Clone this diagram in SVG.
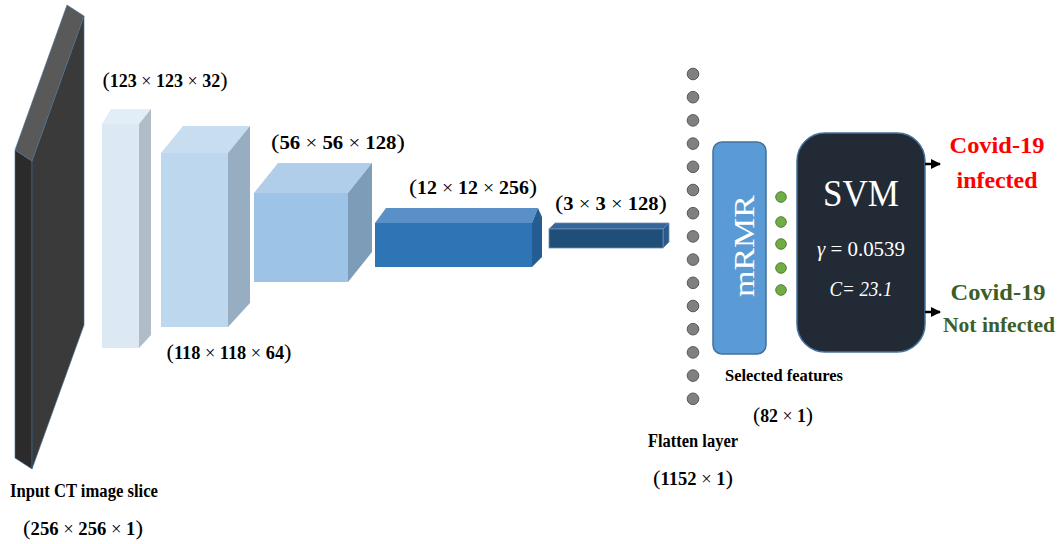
<svg xmlns="http://www.w3.org/2000/svg" width="1058" height="544" viewBox="0 0 1058 544">
<defs>
<style>
.lbl{font-family:"Liberation Serif","Times New Roman",serif;font-weight:bold;fill:#000;}
.math{font-family:"Liberation Serif","Times New Roman",serif;font-weight:bold;font-size:18px;fill:#000;}
.p{font-weight:normal;font-size:22px;}
.x{font-weight:normal;}
.w{font-family:"Liberation Serif","Times New Roman",serif;fill:#fff;}
.edge{stroke:#41719c;stroke-width:0.6;}
</style>
<marker id="ah" viewBox="0 0 10 10" refX="9" refY="5" markerWidth="4" markerHeight="4" orient="auto" markerUnits="strokeWidth">
<path d="M0,0 L10,5 L0,10 z" fill="#000"/>
</marker>
</defs>
<rect width="1058" height="544" fill="#fff"/>

<g id="input-slab">
<polygon points="15,150 32,161 32,469 15,458" fill="#2b2b2b" class="edge"/>
<polygon points="32,161 84,16 84,325 32,469" fill="#3a3a3a" class="edge"/>
<polygon points="15,150 67,5 84,16 32,161" fill="#595959" class="edge"/>
<text class="lbl" x="84" y="497" font-size="18" text-anchor="middle" textLength="148" lengthAdjust="spacingAndGlyphs">Input CT image slice</text>
<text class="math" x="83" y="535" text-anchor="middle" textLength="120" lengthAdjust="spacingAndGlyphs"><tspan class="p">(</tspan>256 <tspan class="x">×</tspan> 256 <tspan class="x">×</tspan> 1<tspan class="p">)</tspan></text>
</g>

<g id="layer1">
<polygon points="102,124 111,109 151,109 139,124" fill="#e3edf8"/>
<polygon points="139,124 151,109 151,335 139,348" fill="#b0bcc8"/>
<rect x="102" y="124" width="37" height="224" fill="#dde8f5"/>
<text class="math" x="165" y="87" text-anchor="middle" textLength="125" lengthAdjust="spacingAndGlyphs"><tspan class="p">(</tspan>123 <tspan class="x">×</tspan> 123 <tspan class="x">×</tspan> 32<tspan class="p">)</tspan></text>
</g>

<g id="layer2">
<polygon points="161,153 183,126 250,126 228,153" fill="#c9ddf0"/>
<polygon points="228,153 250,126 250,303 228,327" fill="#97adc1"/>
<rect x="161" y="153" width="67" height="174" fill="#bdd7ee"/>
<text class="math" x="229" y="359" text-anchor="middle" textLength="125" lengthAdjust="spacingAndGlyphs"><tspan class="p">(</tspan>118 <tspan class="x">×</tspan> 118 <tspan class="x">×</tspan> 64<tspan class="p">)</tspan></text>
</g>

<g id="layer3">
<polygon points="254,193 278,163 372,163 348,193" fill="#b0cde9"/>
<polygon points="348,193 372,163 372,252 348,282" fill="#7d9cb8"/>
<rect x="254" y="193" width="94" height="89" fill="#9dc3e6"/>
<text class="math" x="338" y="149" text-anchor="middle" textLength="134" lengthAdjust="spacingAndGlyphs"><tspan class="p">(</tspan>56 <tspan class="x">×</tspan> 56 <tspan class="x">×</tspan> 128<tspan class="p">)</tspan></text>
</g>

<g id="layer4">
<polygon points="375,223 386,208 538,208 532,223" fill="#5a90c8"/>
<polygon points="532,223 538,208 542,217 542,257 532,267" fill="#245d93"/>
<rect x="375" y="223" width="157" height="44" fill="#2e75b6"/>
<text class="math" x="473" y="194" text-anchor="middle" textLength="128" lengthAdjust="spacingAndGlyphs"><tspan class="p">(</tspan>12 <tspan class="x">×</tspan> 12 <tspan class="x">×</tspan> 256<tspan class="p">)</tspan></text>
</g>

<g id="layer5">
<polygon points="549,229 555,223 669,223 663,229" fill="#35679a" stroke="#6f8db0" stroke-width="0.8"/>
<polygon points="663,229 669,223 669,242 663,248" fill="#2a5a8a" stroke="#6f8db0" stroke-width="0.8"/>
<rect x="549" y="229" width="114" height="19" fill="#1f4e79" stroke="#6f8db0" stroke-width="0.8"/>
<text class="math" x="611" y="210" text-anchor="middle" textLength="112" lengthAdjust="spacingAndGlyphs"><tspan class="p">(</tspan>3 <tspan class="x">×</tspan> 3 <tspan class="x">×</tspan> 128<tspan class="p">)</tspan></text>
</g>

<g id="flatten">
<g fill="#808080" stroke="#595959" stroke-width="1">
<circle cx="693" cy="74" r="5.8"/>
<circle cx="693" cy="97.2" r="5.8"/>
<circle cx="693" cy="120.4" r="5.8"/>
<circle cx="693" cy="143.6" r="5.8"/>
<circle cx="693" cy="166.8" r="5.8"/>
<circle cx="693" cy="190" r="5.8"/>
<circle cx="693" cy="213.2" r="5.8"/>
<circle cx="693" cy="236.4" r="5.8"/>
<circle cx="693" cy="259.6" r="5.8"/>
<circle cx="693" cy="282.8" r="5.8"/>
<circle cx="693" cy="306" r="5.8"/>
<circle cx="693" cy="329.2" r="5.8"/>
<circle cx="693" cy="352.4" r="5.8"/>
<circle cx="693" cy="375.6" r="5.8"/>
<circle cx="693" cy="398.8" r="5.8"/>
</g>
<text class="lbl" x="693" y="447" font-size="18" text-anchor="middle" textLength="90" lengthAdjust="spacingAndGlyphs">Flatten layer</text>
<text class="math" x="693" y="485" text-anchor="middle" textLength="80" lengthAdjust="spacingAndGlyphs"><tspan class="p">(</tspan>1152 <tspan class="x">×</tspan> 1<tspan class="p">)</tspan></text>
</g>

<g id="mrmr">
<rect x="713" y="142" width="53" height="212" rx="9" fill="#5b9bd5" stroke="#41719c" stroke-width="1.5"/>
<text class="w" x="0" y="0" font-size="30" text-anchor="middle" transform="translate(754,246) rotate(-90)" textLength="102" lengthAdjust="spacingAndGlyphs">mRMR</text>
</g>

<g id="selected-features">
<g fill="#70ad47" stroke="#507e32" stroke-width="1">
<circle cx="781" cy="197" r="5.3"/>
<circle cx="781" cy="222" r="5.3"/>
<circle cx="781" cy="244" r="5.3"/>
<circle cx="781" cy="268" r="5.3"/>
<circle cx="781" cy="290" r="5.3"/>
</g>
<text class="lbl" x="784" y="381" font-size="17" text-anchor="middle" textLength="118" lengthAdjust="spacingAndGlyphs">Selected features</text>
<text class="math" x="783" y="422" text-anchor="middle" textLength="60" lengthAdjust="spacingAndGlyphs"><tspan class="p">(</tspan>82 <tspan class="x">×</tspan> 1<tspan class="p">)</tspan></text>
</g>

<g id="svm">
<rect x="797" y="133" width="128" height="219" rx="28" fill="#222a35" stroke="#41719c" stroke-width="1.5"/>
<text class="w" x="861" y="206" font-size="38" text-anchor="middle" textLength="76" lengthAdjust="spacingAndGlyphs">SVM</text>
<text class="w" x="861" y="256" font-size="21" text-anchor="middle" textLength="88" lengthAdjust="spacingAndGlyphs"><tspan font-style="italic">γ</tspan> = 0.0539</text>
<text class="w" x="861" y="296" font-size="21" font-style="italic" text-anchor="middle" textLength="63" lengthAdjust="spacingAndGlyphs">C= 23.1</text>
</g>

<g id="connectors" stroke="#000" stroke-width="2.5" fill="none">
<line x1="925" y1="164" x2="940" y2="164" marker-end="url(#ah)"/>
<line x1="925" y1="312" x2="940" y2="312" marker-end="url(#ah)"/>
</g>

<g id="out-infected">
<text class="lbl" x="997" y="153" font-size="24" style="fill:#ff0000" text-anchor="middle" textLength="95" lengthAdjust="spacingAndGlyphs">Covid-19</text>
<text class="lbl" x="997" y="188" font-size="24" style="fill:#ff0000" text-anchor="middle" textLength="81" lengthAdjust="spacingAndGlyphs">infected</text>
</g>

<g id="out-not-infected">
<text class="lbl" x="998" y="300" font-size="24" style="fill:#3b5f26" text-anchor="middle" textLength="95" lengthAdjust="spacingAndGlyphs">Covid-19</text>
<text class="lbl" x="999" y="332" font-size="22" style="fill:#3b5f26" text-anchor="middle" textLength="112" lengthAdjust="spacingAndGlyphs">Not infected</text>
</g>
</svg>
